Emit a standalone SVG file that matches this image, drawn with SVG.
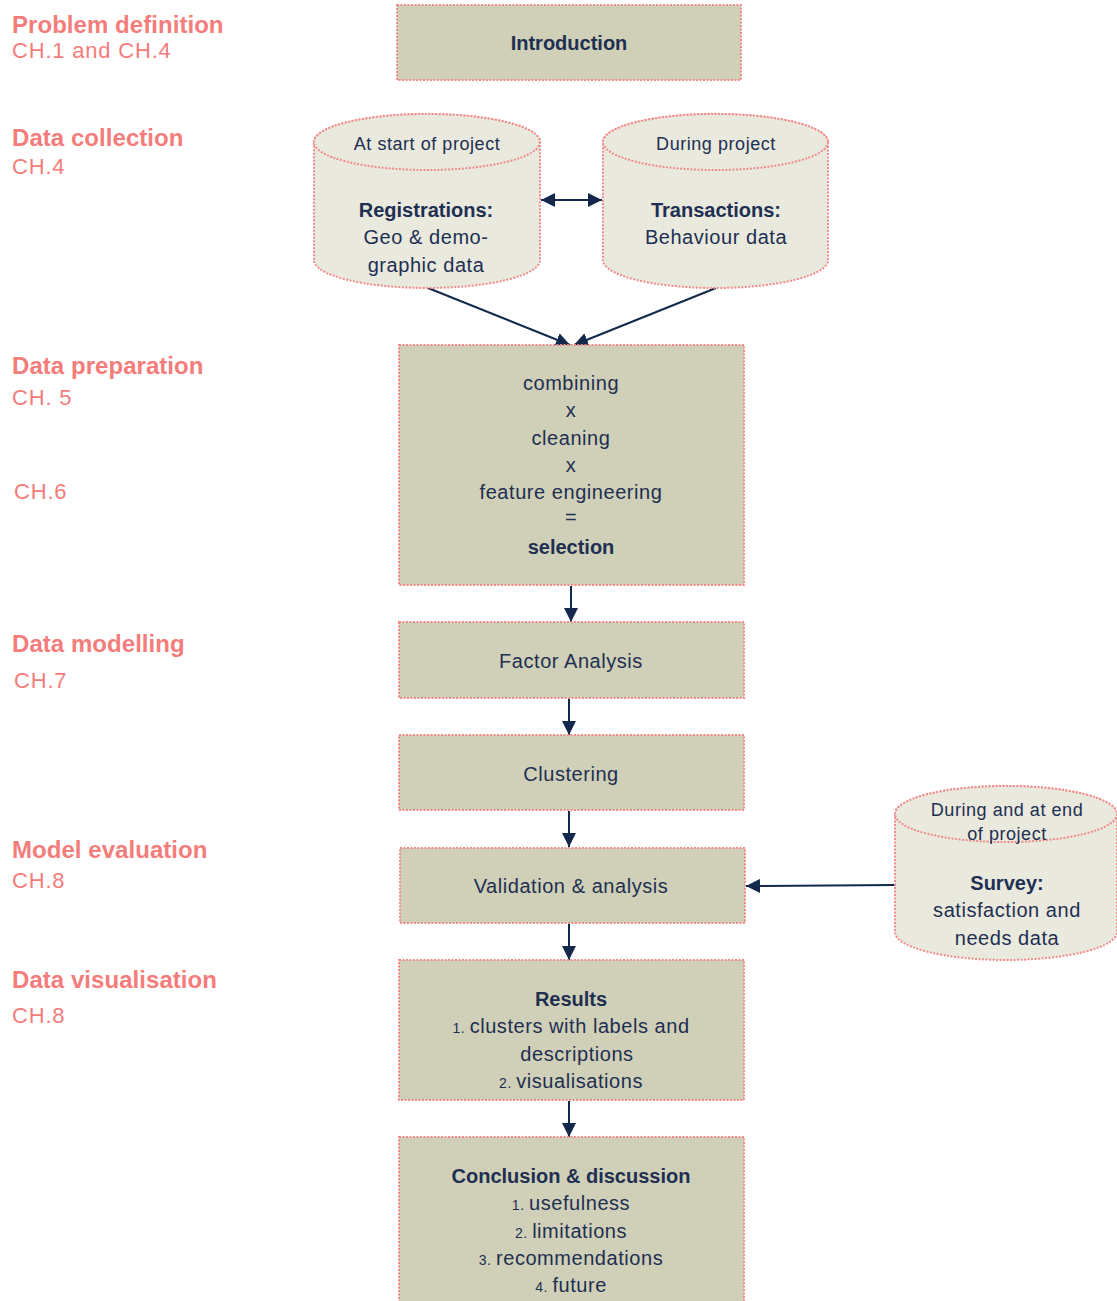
<svg xmlns="http://www.w3.org/2000/svg" width="1117" height="1301" viewBox="0 0 1117 1301">
  <style>
    .box { fill: #cfd0b7; stroke: #f28b8b; stroke-width: 2; stroke-dasharray: 2 1.5; }
    .cyl { fill: #e9e9de; stroke: #f28b8b; stroke-width: 2; stroke-dasharray: 2 1.5; }
    .t { font-family: "Liberation Sans", Arial, sans-serif; font-size: 20px; fill: #1e2f52; text-anchor: middle; letter-spacing: 0.55px; }
    .s { font-size: 18px; }
    .b { font-weight: bold; letter-spacing: 0; }
    .n { font-size: 14px; }
    .h { font-family: "Liberation Sans", Arial, sans-serif; font-size: 24px; font-weight: bold; fill: #f47c7a; letter-spacing: 0.05px; }
    .c { font-family: "Liberation Sans", Arial, sans-serif; font-size: 22px; fill: #f47c7a; letter-spacing: 0.8px; }
    .edge { stroke: #14284b; stroke-width: 2; fill: none; }
  </style>
  <defs>
    <marker id="arrL" viewBox="0 0 10 10" refX="10" refY="5" markerWidth="14" markerHeight="14" markerUnits="userSpaceOnUse" orient="auto-start-reverse">
      <path d="M0,0 L10,5 L0,10 Z" fill="#14284b"/>
    </marker>
  </defs>

  <!-- stage labels -->
  <g id="stage-labels">
    <text class="h" x="12" y="33">Problem definition</text>
    <text class="c" x="12" y="58">CH.1 and CH.4</text>
    <text class="h" x="12" y="146">Data collection</text>
    <text class="c" x="12" y="174">CH.4</text>
    <text class="h" x="12" y="374">Data preparation</text>
    <text class="c" x="12" y="405">CH. 5</text>
    <text class="c" x="14" y="499">CH.6</text>
    <text class="h" x="12" y="652">Data modelling</text>
    <text class="c" x="14" y="688">CH.7</text>
    <text class="h" x="12" y="858">Model evaluation</text>
    <text class="c" x="12" y="888">CH.8</text>
    <text class="h" x="12" y="988">Data visualisation</text>
    <text class="c" x="12" y="1023">CH.8</text>
  </g>

  <!-- connectors -->
  <g id="connectors">
    <line class="edge" x1="541" y1="200" x2="602" y2="200" marker-start="url(#arrL)" marker-end="url(#arrL)"/>
    <line class="edge" x1="428" y1="288" x2="570" y2="345" marker-end="url(#arrL)"/>
    <line class="edge" x1="716" y1="288" x2="574" y2="345" marker-end="url(#arrL)"/>
    <line class="edge" x1="571" y1="586" x2="571" y2="622" marker-end="url(#arrL)"/>
    <line class="edge" x1="569" y1="699" x2="569" y2="735" marker-end="url(#arrL)"/>
    <line class="edge" x1="569" y1="811" x2="569" y2="847" marker-end="url(#arrL)"/>
    <line class="edge" x1="569" y1="924" x2="569" y2="960" marker-end="url(#arrL)"/>
    <line class="edge" x1="569" y1="1101" x2="569" y2="1137" marker-end="url(#arrL)"/>
    <line class="edge" x1="895" y1="885" x2="746" y2="886" marker-end="url(#arrL)"/>
  </g>

  <g id="introduction">
    <rect class="box" x="397" y="5" width="344" height="75"/>
    <text class="t b" x="569" y="50">Introduction</text>
  </g>

  <g id="registrations">
    <path class="cyl" d="M314,142 A113,28 0 0 1 540,142 V260 A113,28 0 0 1 314,260 Z"/>
    <ellipse class="cyl" cx="427" cy="142" rx="113" ry="28"/>
    <text class="t s" x="427" y="150">At start of project</text>
    <text class="t b" x="426" y="217">Registrations:</text>
    <text class="t" x="426" y="244">Geo &amp; demo-</text>
    <text class="t" x="426" y="272">graphic  data</text>
  </g>

  <g id="transactions">
    <path class="cyl" d="M603,142 A112.5,28 0 0 1 828,142 V260 A112.5,28 0 0 1 603,260 Z"/>
    <ellipse class="cyl" cx="715.5" cy="142" rx="112.5" ry="28"/>
    <text class="t s" x="716" y="150">During project</text>
    <text class="t b" x="716" y="217">Transactions:</text>
    <text class="t" x="716" y="244">Behaviour  data</text>
  </g>

  <g id="data-preparation">
    <rect class="box" x="399" y="345" width="345" height="240"/>
    <text class="t" x="571" y="390">combining</text>
    <text class="t" x="571" y="417">x</text>
    <text class="t" x="571" y="445">cleaning</text>
    <text class="t" x="571" y="472">x</text>
    <text class="t" x="571" y="499">feature engineering</text>
    <text class="t" x="571" y="524">=</text>
    <text class="t b" x="571" y="554">selection</text>
  </g>

  <g id="factor-analysis">
    <rect class="box" x="399" y="622" width="345" height="76"/>
    <text class="t" x="571" y="668">Factor Analysis</text>
  </g>

  <g id="clustering">
    <rect class="box" x="399" y="735" width="345" height="75"/>
    <text class="t" x="571" y="781">Clustering</text>
  </g>

  <g id="validation">
    <rect class="box" x="400" y="848" width="345" height="75"/>
    <text class="t" x="571" y="893">Validation  &amp; analysis</text>
  </g>

  <g id="survey">
    <path class="cyl" d="M895,814 A111,28 0 0 1 1117,814 V932 A111,28 0 0 1 895,932 Z"/>
    <ellipse class="cyl" cx="1006" cy="814" rx="111" ry="28"/>
    <text class="t s" x="1007" y="816">During and at end</text>
    <text class="t s" x="1007" y="840">of project</text>
    <text class="t b" x="1007" y="890">Survey:</text>
    <text class="t" x="1007" y="917">satisfaction  and</text>
    <text class="t" x="1007" y="945">needs data</text>
  </g>

  <g id="results">
    <rect class="box" x="399" y="960" width="345" height="140"/>
    <text class="t b" x="571" y="1006">Results</text>
    <text class="t" x="571" y="1033"><tspan class="n">1. </tspan>clusters  with  labels  and</text>
    <text class="t" x="577" y="1061">descriptions</text>
    <text class="t" x="571" y="1088"><tspan class="n">2. </tspan>visualisations</text>
  </g>

  <g id="conclusion">
    <rect class="box" x="399" y="1137" width="345" height="170"/>
    <text class="t b" x="571" y="1183">Conclusion &amp; discussion</text>
    <text class="t" x="571" y="1210"><tspan class="n">1. </tspan>usefulness</text>
    <text class="t" x="571" y="1238"><tspan class="n">2. </tspan>limitations</text>
    <text class="t" x="571" y="1265"><tspan class="n">3. </tspan>recommendations</text>
    <text class="t" x="571" y="1292"><tspan class="n">4. </tspan>future</text>
  </g>
</svg>
